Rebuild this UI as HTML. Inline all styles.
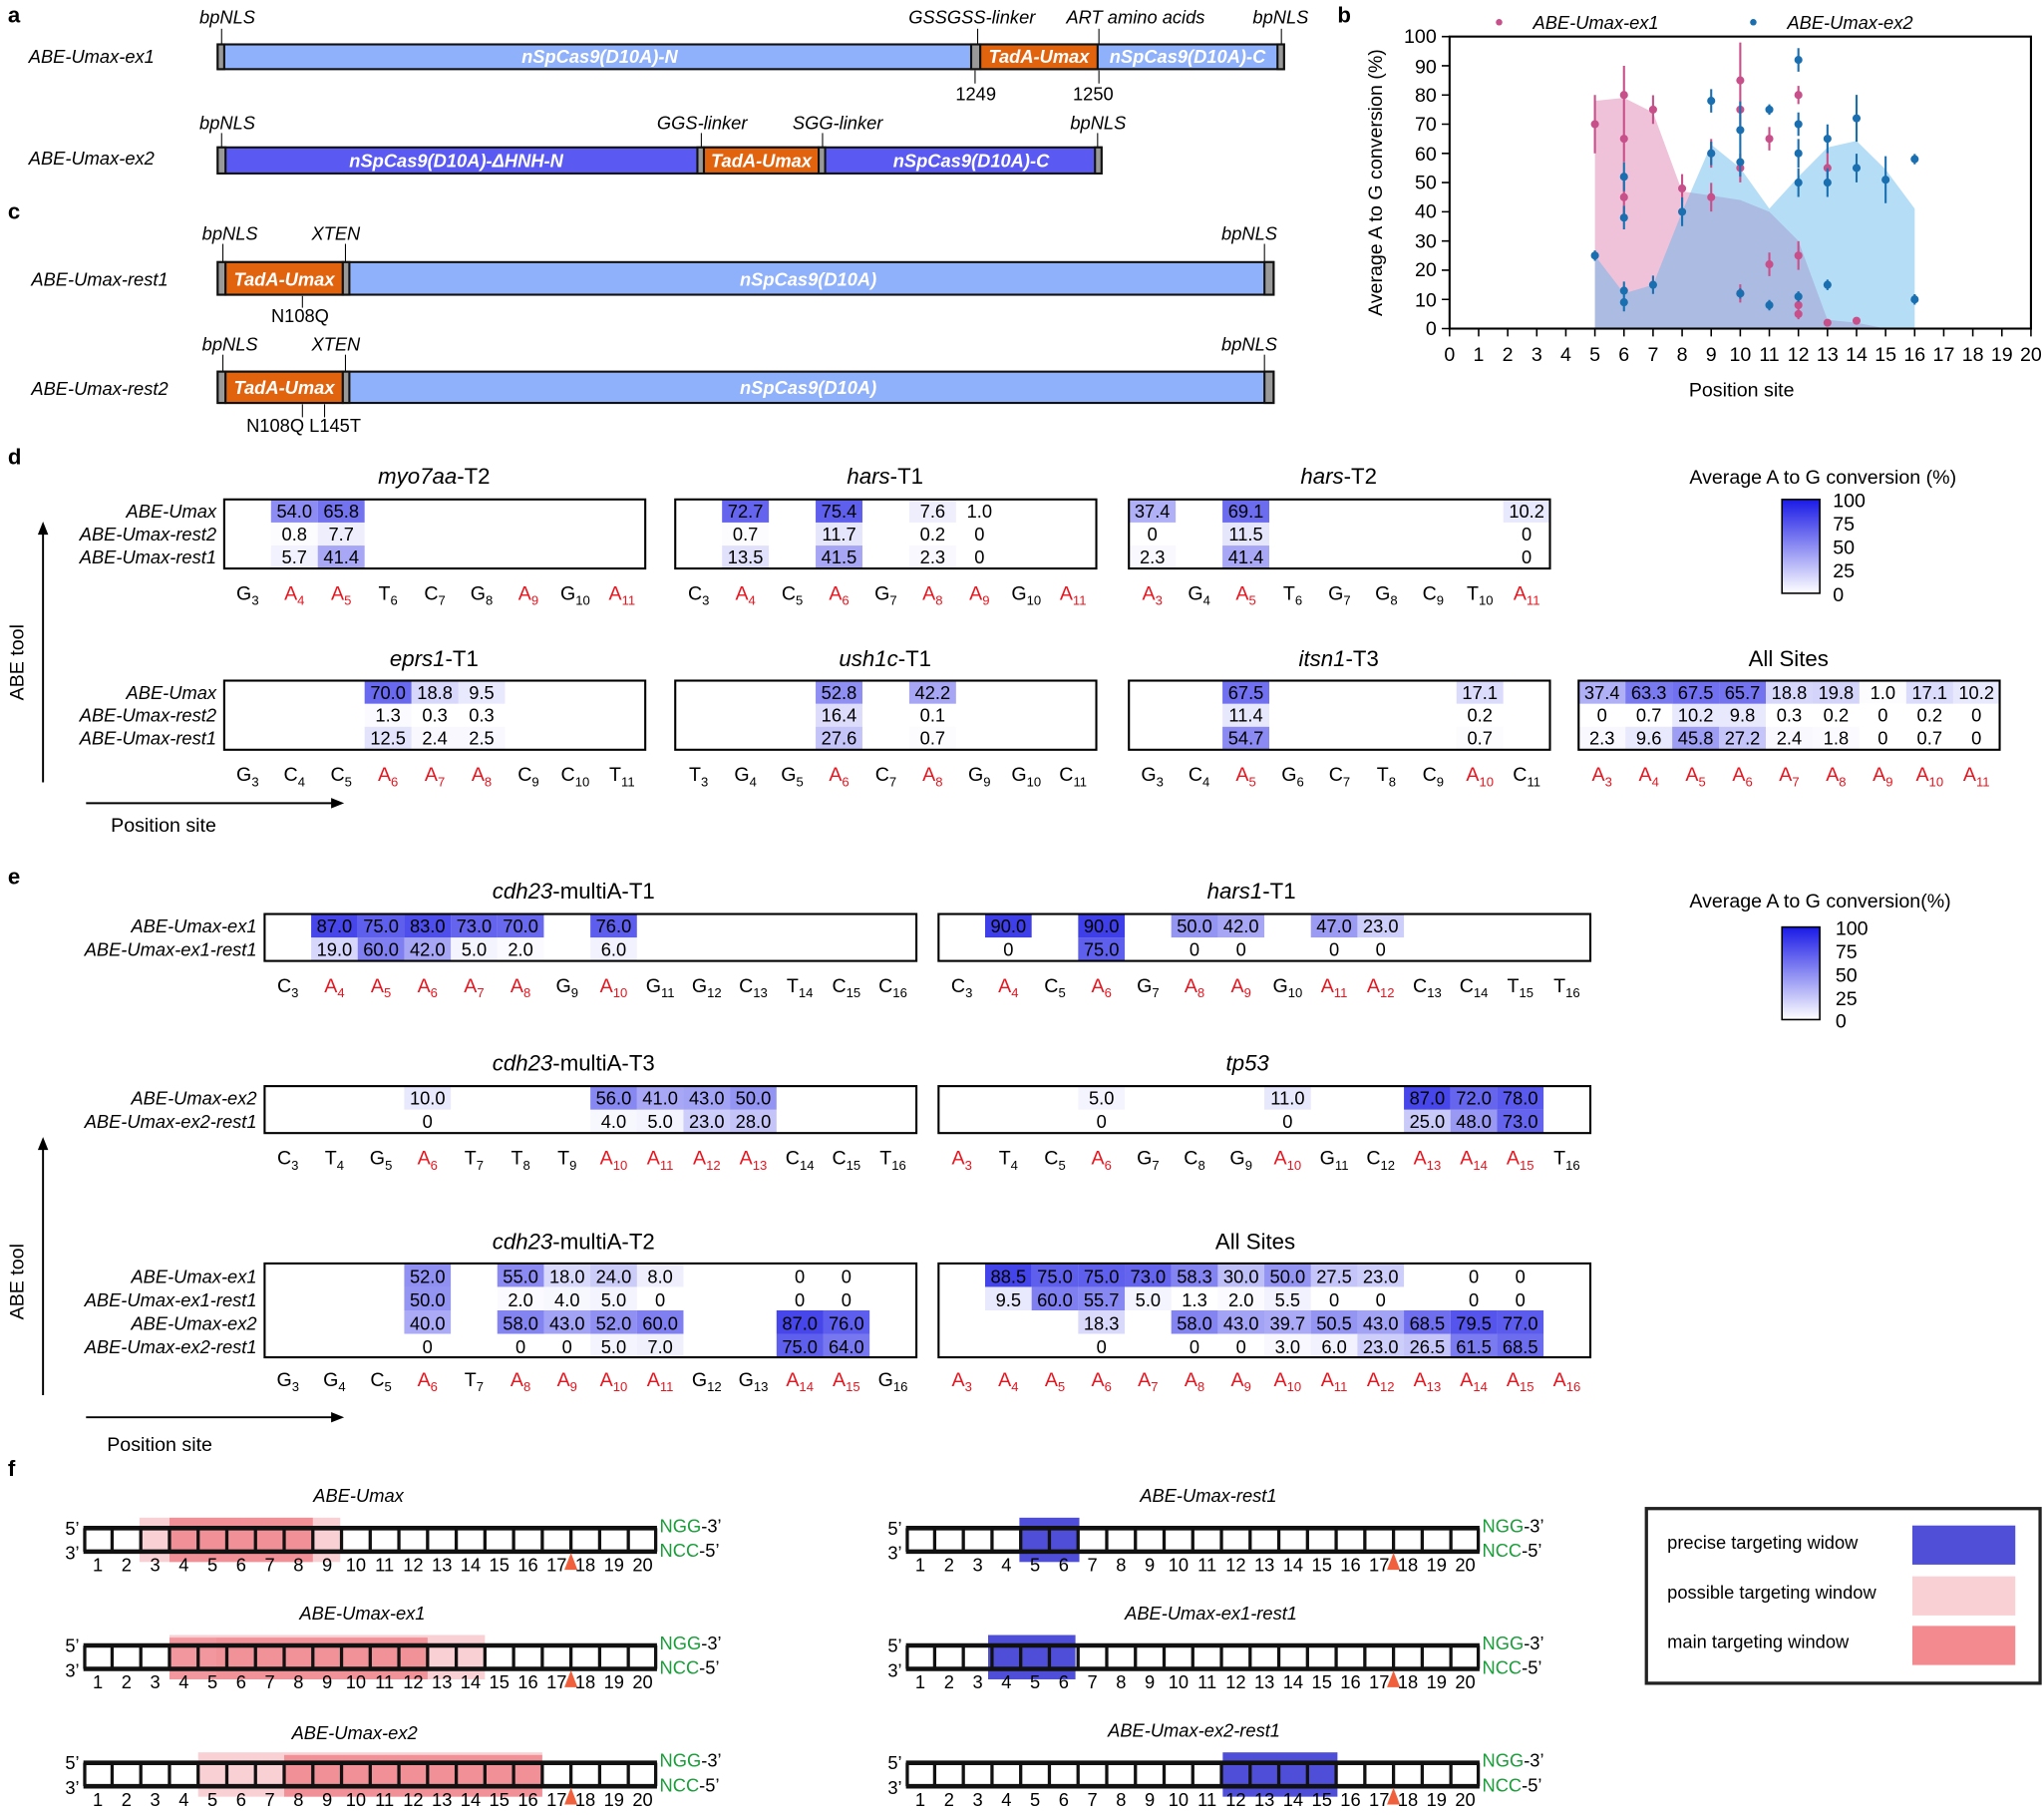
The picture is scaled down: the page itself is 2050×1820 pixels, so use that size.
<!DOCTYPE html>
<html><head><meta charset="utf-8"><style>
html,body{margin:0;padding:0;background:#fff}
svg{display:block;font-family:"Liberation Sans",sans-serif}
.i{font-style:italic}
.b{font-weight:bold}
.h rect.c{fill:#2a2ae8}
.box{fill:none;stroke:#000;stroke-width:1.6}
.v{font-size:14px;text-anchor:middle}
.rl{font-size:14px;font-style:italic;text-anchor:end}
.cl{font-size:15px;text-anchor:middle}
.r{fill:#e8141e}
.sb{font-size:10px}
.tt{font-size:17px;text-anchor:middle}
.bt{fill:#fff;font-style:italic;font-weight:bold;font-size:14px;text-anchor:middle}
.lb{font-size:14px;font-style:italic}
.ax{font-size:15px}
.g{fill:#1a9e3a;font-size:14px}
</style></head><body>
<svg width="2050" height="1820" viewBox="0 0 1568 1392" xmlns="http://www.w3.org/2000/svg">
<!-- panel letters -->
<g class="b" font-size="17"><text x="6" y="17">a</text><text x="1026" y="17">b</text><text x="6" y="168">c</text><text x="6" y="356">d</text><text x="6" y="678">e</text><text x="6" y="1132">f</text></g>

<!-- Panel a -->
<g stroke="#000" stroke-width="0.8">
<line x1="170" y1="22" x2="170" y2="34"/><line x1="750" y1="22" x2="750" y2="34"/><line x1="843" y1="22" x2="843" y2="34"/><line x1="983" y1="22" x2="983" y2="34"/>
<line x1="748" y1="54" x2="748" y2="64"/><line x1="843" y1="54" x2="843" y2="64"/>
<line x1="170" y1="102" x2="170" y2="113"/><line x1="538" y1="102" x2="538" y2="113"/><line x1="631" y1="102" x2="631" y2="113"/><line x1="842" y1="102" x2="842" y2="113"/>
<line x1="171" y1="187" x2="171" y2="201"/><line x1="265" y1="187" x2="265" y2="201"/><line x1="970" y1="187" x2="970" y2="201"/>
<line x1="232" y1="227" x2="232" y2="236"/>
<line x1="171" y1="272" x2="171" y2="285"/><line x1="265" y1="272" x2="265" y2="285"/><line x1="970" y1="272" x2="970" y2="285"/>
<line x1="232" y1="310" x2="232" y2="320"/><line x1="249" y1="310" x2="249" y2="320"/>
</g>
<g class="lb">
<text x="153" y="18">bpNLS</text><text x="697" y="18">GSSGSS-linker</text><text x="818" y="18">ART amino acids</text><text x="961" y="18">bpNLS</text>
<text x="22" y="48">ABE-Umax-ex1</text>
<text x="153" y="99">bpNLS</text><text x="504" y="99">GGS-linker</text><text x="608" y="99">SGG-linker</text><text x="821" y="99">bpNLS</text>
<text x="22" y="126">ABE-Umax-ex2</text>
<text x="155" y="184">bpNLS</text><text x="239" y="184">XTEN</text><text x="937" y="184">bpNLS</text>
<text x="24" y="219">ABE-Umax-rest1</text>
<text x="155" y="269">bpNLS</text><text x="239" y="269">XTEN</text><text x="937" y="269">bpNLS</text>
<text x="24" y="303">ABE-Umax-rest2</text>
</g>
<g font-size="14"><text x="733" y="77">1249</text><text x="823" y="77">1250</text><text x="208" y="247">N108Q</text><text x="189" y="331">N108Q L145T</text></g>
<!-- ex1 bar -->
<g stroke="#111" stroke-width="1.6">
<rect x="167" y="34" width="818" height="19" fill="#8fb0fa"/>
<rect x="167" y="34" width="5" height="19" fill="#999"/>
<rect x="745" y="34" width="7" height="19" fill="#999"/>
<rect x="752" y="34" width="90" height="19" fill="#e2630e"/>
<rect x="980" y="34" width="5" height="19" fill="#999"/>
<rect x="167" y="113" width="678" height="20" fill="#5a5af2"/>
<rect x="167" y="113" width="6" height="20" fill="#999"/>
<rect x="535" y="113" width="5" height="20" fill="#999"/>
<rect x="540" y="113" width="88" height="20" fill="#e2630e"/>
<rect x="628" y="113" width="5" height="20" fill="#999"/>
<rect x="840" y="113" width="5" height="20" fill="#999"/>
<rect x="167" y="201" width="810" height="25" fill="#8fb0fa"/>
<rect x="167" y="201" width="6" height="25" fill="#999"/>
<rect x="173" y="201" width="90" height="25" fill="#e2630e"/>
<rect x="263" y="201" width="5" height="25" fill="#999"/>
<rect x="970" y="201" width="7" height="25" fill="#999"/>
<rect x="167" y="285" width="810" height="24" fill="#8fb0fa"/>
<rect x="167" y="285" width="6" height="24" fill="#999"/>
<rect x="173" y="285" width="90" height="24" fill="#e2630e"/>
<rect x="263" y="285" width="5" height="24" fill="#999"/>
<rect x="970" y="285" width="7" height="24" fill="#999"/>
</g>
<g class="bt">
<text x="460" y="48">nSpCas9(D10A)-N</text><text x="797" y="48">TadA-Umax</text><text x="911" y="48">nSpCas9(D10A)-C</text>
<text x="350" y="128">nSpCas9(D10A)-ΔHNH-N</text><text x="584" y="128">TadA-Umax</text><text x="745" y="128">nSpCas9(D10A)-C</text>
<text x="218" y="219">TadA-Umax</text><text x="620" y="219">nSpCas9(D10A)</text>
<text x="218" y="302">TadA-Umax</text><text x="620" y="302">nSpCas9(D10A)</text>
</g>

<!-- Panel b -->
<polygon fill="#dc78aa" fill-opacity="0.45" points="1223.5,252 1223.5,77.3 1245.8,75 1268.1,86.2 1290.4,146.7 1312.7,150 1335,153.4 1357.3,162.4 1379.6,184.8 1401.9,245.3 1424.2,247.5 1446.5,252"/>
<polygon fill="#5ab4ea" fill-opacity="0.45" points="1223.5,252 1223.5,196 1245.8,225 1268.1,218.4 1290.4,162.4 1312.7,110.9 1335,128.8 1357.3,160 1379.6,135.5 1401.9,113.1 1424.2,108 1446.5,130 1468.8,160 1468.8,252"/>
<rect x="1112" y="28" width="446" height="224" fill="none" stroke="#000" stroke-width="1.6"/>
<g stroke="#000" stroke-width="1.2">
<path d="M1106 252h6M1106 229.6h6M1106 207.2h6M1106 184.8h6M1106 162.4h6M1106 140h6M1106 117.6h6M1106 95.2h6M1106 72.8h6M1106 50.4h6M1106 28h6"/>
<path d="M1112 252v6M1134.3 252v6M1156.6 252v6M1178.9 252v6M1201.2 252v6M1223.5 252v6M1245.8 252v6M1268.1 252v6M1290.4 252v6M1312.7 252v6M1335 252v6M1357.3 252v6M1379.6 252v6M1401.9 252v6M1424.2 252v6M1446.5 252v6M1468.8 252v6M1491.1 252v6M1513.4 252v6M1535.7 252v6M1558 252v6"/>
</g>
<g class="ax" text-anchor="end">
<text x="1102" y="257">0</text><text x="1102" y="235">10</text><text x="1102" y="212">20</text><text x="1102" y="190">30</text><text x="1102" y="167">40</text><text x="1102" y="145">50</text><text x="1102" y="123">60</text><text x="1102" y="100">70</text><text x="1102" y="78">80</text><text x="1102" y="56">90</text><text x="1102" y="33">100</text>
</g>
<g class="ax" text-anchor="middle">
<text x="1112" y="277">0</text><text x="1134.3" y="277">1</text><text x="1156.6" y="277">2</text><text x="1178.9" y="277">3</text><text x="1201.2" y="277">4</text><text x="1223.5" y="277">5</text><text x="1245.8" y="277">6</text><text x="1268.1" y="277">7</text><text x="1290.4" y="277">8</text><text x="1312.7" y="277">9</text><text x="1335" y="277">10</text><text x="1357.3" y="277">11</text><text x="1379.6" y="277">12</text><text x="1401.9" y="277">13</text><text x="1424.2" y="277">14</text><text x="1446.5" y="277">15</text><text x="1468.8" y="277">16</text><text x="1491.1" y="277">17</text><text x="1513.4" y="277">18</text><text x="1535.7" y="277">19</text><text x="1558" y="277">20</text>
<text x="1336" y="304">Position site</text>
</g>
<text class="ax" transform="translate(1060,140) rotate(-90)" text-anchor="middle">Average A to G conversion (%)</text>
<circle cx="1150" cy="17" r="2.5" fill="#c8508a"/><text class="lb" x="1176" y="22">ABE-Umax-ex1</text>
<circle cx="1345" cy="17" r="2.5" fill="#1a6fb0"/><text class="lb" x="1371" y="22">ABE-Umax-ex2</text>
<g stroke="#c8508a" stroke-width="1.6" fill="#c8508a">
<path d="M1223.5 72.8V117.6M1245.8 50.4V95.2M1245.8 88.4V124.4M1245.8 138.2V164.2M1268.1 73V95M1290.4 133.5V155.5M1312.7 106.6V128.6M1312.7 140.2V162.2M1335 32.6V90.6M1335 66V102M1335 117.8V139.8M1335 218V232M1357.3 97.4V115.4M1357.3 193.7V211.7M1379.6 65.8V79.8M1379.6 185V207M1379.6 227V241M1379.6 236.8V244.8M1401.9 115.8V141.8"/>
<circle cx="1223.5" cy="95.2" r="2.3"/><circle cx="1245.8" cy="72.8" r="2.3"/><circle cx="1245.8" cy="106.4" r="2.3"/><circle cx="1245.8" cy="151.2" r="2.3"/><circle cx="1268.1" cy="84" r="2.3"/><circle cx="1290.4" cy="144.5" r="2.3"/><circle cx="1312.7" cy="117.6" r="2.3"/><circle cx="1312.7" cy="151.2" r="2.3"/><circle cx="1335" cy="61.6" r="2.3"/><circle cx="1335" cy="84" r="2.3"/><circle cx="1335" cy="128.8" r="2.3"/><circle cx="1335" cy="225" r="2.3"/><circle cx="1357.3" cy="106.4" r="2.3"/><circle cx="1357.3" cy="202.7" r="2.3"/><circle cx="1379.6" cy="72.8" r="2.3"/><circle cx="1379.6" cy="196" r="2.3"/><circle cx="1379.6" cy="234" r="2.3"/><circle cx="1379.6" cy="240.8" r="2.3"/><circle cx="1401.9" cy="128.8" r="2.3"/><circle cx="1401.9" cy="247.5" r="2.3"/><circle cx="1424.2" cy="246" r="2.3"/>
</g>
<g stroke="#1a6fb0" stroke-width="1.6" fill="#1a6fb0">
<path d="M1223.5 192V200M1245.8 124.5V146.5M1245.8 157.9V175.9M1245.8 215.9V229.9M1245.8 224.8V238.8M1268.1 211.4V225.4M1290.4 151.4V173.4M1312.7 68.3V86.3M1312.7 108.6V126.6M1335 77.7V121.7M1335 113.3V135.3M1335 221V229M1357.3 80V88M1357.3 230V238M1379.6 36.9V54.9M1379.6 86.2V104.2M1379.6 106.6V128.6M1379.6 129V151M1379.6 223.4V231.4M1401.9 95.4V117.4M1401.9 129V151M1401.9 214.4V222.4M1424.2 72.7V108.7M1424.2 117.8V139.8M1446.5 119.8V155.8M1468.8 118V126M1468.8 225.6V233.6"/>
<circle cx="1223.5" cy="196" r="2.3"/><circle cx="1245.8" cy="135.5" r="2.3"/><circle cx="1245.8" cy="166.9" r="2.3"/><circle cx="1245.8" cy="222.9" r="2.3"/><circle cx="1245.8" cy="231.8" r="2.3"/><circle cx="1268.1" cy="218.4" r="2.3"/><circle cx="1290.4" cy="162.4" r="2.3"/><circle cx="1312.7" cy="77.3" r="2.3"/><circle cx="1312.7" cy="117.6" r="2.3"/><circle cx="1335" cy="99.7" r="2.3"/><circle cx="1335" cy="124.3" r="2.3"/><circle cx="1335" cy="225" r="2.3"/><circle cx="1357.3" cy="84" r="2.3"/><circle cx="1357.3" cy="234" r="2.3"/><circle cx="1379.6" cy="45.9" r="2.3"/><circle cx="1379.6" cy="95.2" r="2.3"/><circle cx="1379.6" cy="117.6" r="2.3"/><circle cx="1379.6" cy="140" r="2.3"/><circle cx="1379.6" cy="227.4" r="2.3"/><circle cx="1401.9" cy="106.4" r="2.3"/><circle cx="1401.9" cy="140" r="2.3"/><circle cx="1401.9" cy="218.4" r="2.3"/><circle cx="1424.2" cy="90.7" r="2.3"/><circle cx="1424.2" cy="128.8" r="2.3"/><circle cx="1446.5" cy="137.8" r="2.3"/><circle cx="1468.8" cy="122" r="2.3"/><circle cx="1468.8" cy="229.6" r="2.3"/>
</g>

<defs><linearGradient id="cb" x1="0" y1="0" x2="0" y2="1"><stop offset="0" stop-color="#1a1ae6"/><stop offset="1" stop-color="#fff"/></linearGradient></defs>

<!-- Panel d -->
<g class="h" transform="translate(172,383)">
<text class="tt" x="161" y="-12"><tspan class="i">myo7aa</tspan>-T2</text>
<rect class="c" x="35.9" y="0" width="35.9" height="17.7" fill-opacity=".54"/><rect class="c" x="35.9" y="17.7" width="35.9" height="17.7" fill-opacity=".01"/><rect class="c" x="35.9" y="35.4" width="35.9" height="17.7" fill-opacity=".06"/>
<rect class="c" x="71.8" y="0" width="35.9" height="17.7" fill-opacity=".66"/><rect class="c" x="71.8" y="17.7" width="35.9" height="17.7" fill-opacity=".08"/><rect class="c" x="71.8" y="35.4" width="35.9" height="17.7" fill-opacity=".41"/>
<rect class="box" x="0" y="0" width="323" height="53"/>
<text class="v" x="53.85" y="14">54.0</text><text class="v" x="53.85" y="31.5">0.8</text><text class="v" x="53.85" y="49">5.7</text>
<text class="v" x="89.75" y="14">65.8</text><text class="v" x="89.75" y="31.5">7.7</text><text class="v" x="89.75" y="49">41.4</text>
<text class="rl" x="-6" y="14">ABE-Umax</text><text class="rl" x="-6" y="31.5">ABE-Umax-rest2</text><text class="rl" x="-6" y="49">ABE-Umax-rest1</text>
<g class="cl"><text x="17.95" y="77">G<tspan class="sb" dy="4">3</tspan></text><text class="r" x="53.85" y="77">A<tspan class="sb" dy="4">4</tspan></text><text class="r" x="89.75" y="77">A<tspan class="sb" dy="4">5</tspan></text><text x="125.65" y="77">T<tspan class="sb" dy="4">6</tspan></text><text x="161.55" y="77">C<tspan class="sb" dy="4">7</tspan></text><text x="197.45" y="77">G<tspan class="sb" dy="4">8</tspan></text><text class="r" x="233.35" y="77">A<tspan class="sb" dy="4">9</tspan></text><text x="269.25" y="77">G<tspan class="sb" dy="4">10</tspan></text><text class="r" x="305.15" y="77">A<tspan class="sb" dy="4">11</tspan></text></g>
</g>

<g class="h" transform="translate(518,383)">
<text class="tt" x="161" y="-12"><tspan class="i">hars</tspan>-T1</text>
<rect class="c" x="35.9" y="0" width="35.9" height="17.7" fill-opacity=".73"/><rect class="c" x="35.9" y="17.7" width="35.9" height="17.7" fill-opacity=".01"/><rect class="c" x="35.9" y="35.4" width="35.9" height="17.7" fill-opacity=".14"/>
<rect class="c" x="107.7" y="0" width="35.9" height="17.7" fill-opacity=".75"/><rect class="c" x="107.7" y="17.7" width="35.9" height="17.7" fill-opacity=".12"/><rect class="c" x="107.7" y="35.4" width="35.9" height="17.7" fill-opacity=".42"/>
<rect class="c" x="179.5" y="0" width="35.9" height="17.7" fill-opacity=".08"/><rect class="c" x="179.5" y="35.4" width="35.9" height="17.7" fill-opacity=".03"/>
<rect class="box" x="0" y="0" width="323" height="53"/>
<text class="v" x="53.85" y="14">72.7</text><text class="v" x="53.85" y="31.5">0.7</text><text class="v" x="53.85" y="49">13.5</text>
<text class="v" x="125.65" y="14">75.4</text><text class="v" x="125.65" y="31.5">11.7</text><text class="v" x="125.65" y="49">41.5</text>
<text class="v" x="197.45" y="14">7.6</text><text class="v" x="197.45" y="31.5">0.2</text><text class="v" x="197.45" y="49">2.3</text>
<text class="v" x="233.35" y="14">1.0</text><text class="v" x="233.35" y="31.5">0</text><text class="v" x="233.35" y="49">0</text>
<g class="cl"><text x="17.95" y="77">C<tspan class="sb" dy="4">3</tspan></text><text class="r" x="53.85" y="77">A<tspan class="sb" dy="4">4</tspan></text><text x="89.75" y="77">C<tspan class="sb" dy="4">5</tspan></text><text class="r" x="125.65" y="77">A<tspan class="sb" dy="4">6</tspan></text><text x="161.55" y="77">G<tspan class="sb" dy="4">7</tspan></text><text class="r" x="197.45" y="77">A<tspan class="sb" dy="4">8</tspan></text><text class="r" x="233.35" y="77">A<tspan class="sb" dy="4">9</tspan></text><text x="269.25" y="77">G<tspan class="sb" dy="4">10</tspan></text><text class="r" x="305.15" y="77">A<tspan class="sb" dy="4">11</tspan></text></g>
</g>

<g class="h" transform="translate(866,383)">
<text class="tt" x="161" y="-12"><tspan class="i">hars</tspan>-T2</text>
<rect class="c" x="0" y="0" width="35.9" height="17.7" fill-opacity=".37"/><rect class="c" x="0" y="35.4" width="35.9" height="17.7" fill-opacity=".03"/>
<rect class="c" x="71.8" y="0" width="35.9" height="17.7" fill-opacity=".69"/><rect class="c" x="71.8" y="17.7" width="35.9" height="17.7" fill-opacity=".12"/><rect class="c" x="71.8" y="35.4" width="35.9" height="17.7" fill-opacity=".41"/>
<rect class="c" x="287.2" y="0" width="35.9" height="17.7" fill-opacity=".1"/>
<rect class="box" x="0" y="0" width="323" height="53"/>
<text class="v" x="17.95" y="14">37.4</text><text class="v" x="17.95" y="31.5">0</text><text class="v" x="17.95" y="49">2.3</text>
<text class="v" x="89.75" y="14">69.1</text><text class="v" x="89.75" y="31.5">11.5</text><text class="v" x="89.75" y="49">41.4</text>
<text class="v" x="305.15" y="14">10.2</text><text class="v" x="305.15" y="31.5">0</text><text class="v" x="305.15" y="49">0</text>
<g class="cl"><text class="r" x="17.95" y="77">A<tspan class="sb" dy="4">3</tspan></text><text x="53.85" y="77">G<tspan class="sb" dy="4">4</tspan></text><text class="r" x="89.75" y="77">A<tspan class="sb" dy="4">5</tspan></text><text x="125.65" y="77">T<tspan class="sb" dy="4">6</tspan></text><text x="161.55" y="77">G<tspan class="sb" dy="4">7</tspan></text><text x="197.45" y="77">G<tspan class="sb" dy="4">8</tspan></text><text x="233.35" y="77">C<tspan class="sb" dy="4">9</tspan></text><text x="269.25" y="77">T<tspan class="sb" dy="4">10</tspan></text><text class="r" x="305.15" y="77">A<tspan class="sb" dy="4">11</tspan></text></g>
</g>

<g class="h" transform="translate(172,522)">
<text class="tt" x="161" y="-11"><tspan class="i">eprs1</tspan>-T1</text>
<rect class="c" x="107.7" y="0" width="35.9" height="17.7" fill-opacity=".7"/><rect class="c" x="107.7" y="17.7" width="35.9" height="17.7" fill-opacity=".02"/><rect class="c" x="107.7" y="35.4" width="35.9" height="17.7" fill-opacity=".13"/>
<rect class="c" x="143.6" y="0" width="35.9" height="17.7" fill-opacity=".19"/><rect class="c" x="143.6" y="35.4" width="35.9" height="17.7" fill-opacity=".03"/>
<rect class="c" x="179.5" y="0" width="35.9" height="17.7" fill-opacity=".1"/><rect class="c" x="179.5" y="35.4" width="35.9" height="17.7" fill-opacity=".03"/>
<rect class="box" x="0" y="0" width="323" height="53"/>
<text class="v" x="125.65" y="14">70.0</text><text class="v" x="125.65" y="31.5">1.3</text><text class="v" x="125.65" y="49">12.5</text>
<text class="v" x="161.55" y="14">18.8</text><text class="v" x="161.55" y="31.5">0.3</text><text class="v" x="161.55" y="49">2.4</text>
<text class="v" x="197.45" y="14">9.5</text><text class="v" x="197.45" y="31.5">0.3</text><text class="v" x="197.45" y="49">2.5</text>
<text class="rl" x="-6" y="14">ABE-Umax</text><text class="rl" x="-6" y="31.5">ABE-Umax-rest2</text><text class="rl" x="-6" y="49">ABE-Umax-rest1</text>
<g class="cl"><text x="17.95" y="77">G<tspan class="sb" dy="4">3</tspan></text><text x="53.85" y="77">C<tspan class="sb" dy="4">4</tspan></text><text x="89.75" y="77">C<tspan class="sb" dy="4">5</tspan></text><text class="r" x="125.65" y="77">A<tspan class="sb" dy="4">6</tspan></text><text class="r" x="161.55" y="77">A<tspan class="sb" dy="4">7</tspan></text><text class="r" x="197.45" y="77">A<tspan class="sb" dy="4">8</tspan></text><text x="233.35" y="77">C<tspan class="sb" dy="4">9</tspan></text><text x="269.25" y="77">C<tspan class="sb" dy="4">10</tspan></text><text x="305.15" y="77">T<tspan class="sb" dy="4">11</tspan></text></g>
</g>

<g class="h" transform="translate(518,522)">
<text class="tt" x="161" y="-11"><tspan class="i">ush1c</tspan>-T1</text>
<rect class="c" x="107.7" y="0" width="35.9" height="17.7" fill-opacity=".53"/><rect class="c" x="107.7" y="17.7" width="35.9" height="17.7" fill-opacity=".16"/><rect class="c" x="107.7" y="35.4" width="35.9" height="17.7" fill-opacity=".28"/>
<rect class="c" x="179.5" y="0" width="35.9" height="17.7" fill-opacity=".42"/><rect class="c" x="179.5" y="35.4" width="35.9" height="17.7" fill-opacity=".01"/>
<rect class="box" x="0" y="0" width="323" height="53"/>
<text class="v" x="125.65" y="14">52.8</text><text class="v" x="125.65" y="31.5">16.4</text><text class="v" x="125.65" y="49">27.6</text>
<text class="v" x="197.45" y="14">42.2</text><text class="v" x="197.45" y="31.5">0.1</text><text class="v" x="197.45" y="49">0.7</text>
<g class="cl"><text x="17.95" y="77">T<tspan class="sb" dy="4">3</tspan></text><text x="53.85" y="77">G<tspan class="sb" dy="4">4</tspan></text><text x="89.75" y="77">G<tspan class="sb" dy="4">5</tspan></text><text class="r" x="125.65" y="77">A<tspan class="sb" dy="4">6</tspan></text><text x="161.55" y="77">C<tspan class="sb" dy="4">7</tspan></text><text class="r" x="197.45" y="77">A<tspan class="sb" dy="4">8</tspan></text><text x="233.35" y="77">G<tspan class="sb" dy="4">9</tspan></text><text x="269.25" y="77">G<tspan class="sb" dy="4">10</tspan></text><text x="305.15" y="77">C<tspan class="sb" dy="4">11</tspan></text></g>
</g>

<g class="h" transform="translate(866,522)">
<text class="tt" x="161" y="-11"><tspan class="i">itsn1</tspan>-T3</text>
<rect class="c" x="71.8" y="0" width="35.9" height="17.7" fill-opacity=".67"/><rect class="c" x="71.8" y="17.7" width="35.9" height="17.7" fill-opacity=".11"/><rect class="c" x="71.8" y="35.4" width="35.9" height="17.7" fill-opacity=".55"/>
<rect class="c" x="251.3" y="0" width="35.9" height="17.7" fill-opacity=".17"/><rect class="c" x="251.3" y="35.4" width="35.9" height="17.7" fill-opacity=".01"/>
<rect class="box" x="0" y="0" width="323" height="53"/>
<text class="v" x="89.75" y="14">67.5</text><text class="v" x="89.75" y="31.5">11.4</text><text class="v" x="89.75" y="49">54.7</text>
<text class="v" x="269.25" y="14">17.1</text><text class="v" x="269.25" y="31.5">0.2</text><text class="v" x="269.25" y="49">0.7</text>
<g class="cl"><text x="17.95" y="77">G<tspan class="sb" dy="4">3</tspan></text><text x="53.85" y="77">C<tspan class="sb" dy="4">4</tspan></text><text class="r" x="89.75" y="77">A<tspan class="sb" dy="4">5</tspan></text><text x="125.65" y="77">G<tspan class="sb" dy="4">6</tspan></text><text x="161.55" y="77">C<tspan class="sb" dy="4">7</tspan></text><text x="197.45" y="77">T<tspan class="sb" dy="4">8</tspan></text><text x="233.35" y="77">C<tspan class="sb" dy="4">9</tspan></text><text class="r" x="269.25" y="77">A<tspan class="sb" dy="4">10</tspan></text><text x="305.15" y="77">C<tspan class="sb" dy="4">11</tspan></text></g>
</g>

<g class="h" transform="translate(1211,522)">
<text class="tt" x="161" y="-11">All Sites</text>
<rect class="c" x="0" y="0" width="35.9" height="17.7" fill-opacity=".37"/><rect class="c" x="35.9" y="0" width="35.9" height="17.7" fill-opacity=".63"/><rect class="c" x="71.8" y="0" width="35.9" height="17.7" fill-opacity=".67"/><rect class="c" x="107.7" y="0" width="35.9" height="17.7" fill-opacity=".66"/><rect class="c" x="143.6" y="0" width="35.9" height="17.7" fill-opacity=".19"/><rect class="c" x="179.5" y="0" width="35.9" height="17.7" fill-opacity=".2"/><rect class="c" x="215.4" y="0" width="35.9" height="17.7" fill-opacity=".01"/><rect class="c" x="251.3" y="0" width="35.9" height="17.7" fill-opacity=".17"/><rect class="c" x="287.2" y="0" width="35.9" height="17.7" fill-opacity=".1"/>
<rect class="c" x="71.8" y="17.7" width="35.9" height="17.7" fill-opacity=".1"/><rect class="c" x="107.7" y="17.7" width="35.9" height="17.7" fill-opacity=".1"/>
<rect class="c" x="0" y="35.4" width="35.9" height="17.7" fill-opacity=".03"/><rect class="c" x="35.9" y="35.4" width="35.9" height="17.7" fill-opacity=".1"/><rect class="c" x="71.8" y="35.4" width="35.9" height="17.7" fill-opacity=".46"/><rect class="c" x="107.7" y="35.4" width="35.9" height="17.7" fill-opacity=".27"/><rect class="c" x="143.6" y="35.4" width="35.9" height="17.7" fill-opacity=".03"/><rect class="c" x="179.5" y="35.4" width="35.9" height="17.7" fill-opacity=".02"/>
<rect class="box" x="0" y="0" width="323" height="53"/>
<text class="v" x="17.95" y="14">37.4</text><text class="v" x="53.85" y="14">63.3</text><text class="v" x="89.75" y="14">67.5</text><text class="v" x="125.65" y="14">65.7</text><text class="v" x="161.55" y="14">18.8</text><text class="v" x="197.45" y="14">19.8</text><text class="v" x="233.35" y="14">1.0</text><text class="v" x="269.25" y="14">17.1</text><text class="v" x="305.15" y="14">10.2</text>
<text class="v" x="17.95" y="31.5">0</text><text class="v" x="53.85" y="31.5">0.7</text><text class="v" x="89.75" y="31.5">10.2</text><text class="v" x="125.65" y="31.5">9.8</text><text class="v" x="161.55" y="31.5">0.3</text><text class="v" x="197.45" y="31.5">0.2</text><text class="v" x="233.35" y="31.5">0</text><text class="v" x="269.25" y="31.5">0.2</text><text class="v" x="305.15" y="31.5">0</text>
<text class="v" x="17.95" y="49">2.3</text><text class="v" x="53.85" y="49">9.6</text><text class="v" x="89.75" y="49">45.8</text><text class="v" x="125.65" y="49">27.2</text><text class="v" x="161.55" y="49">2.4</text><text class="v" x="197.45" y="49">1.8</text><text class="v" x="233.35" y="49">0</text><text class="v" x="269.25" y="49">0.7</text><text class="v" x="305.15" y="49">0</text>
<g class="cl r"><text x="17.95" y="77">A<tspan class="sb" dy="4">3</tspan></text><text x="53.85" y="77">A<tspan class="sb" dy="4">4</tspan></text><text x="89.75" y="77">A<tspan class="sb" dy="4">5</tspan></text><text x="125.65" y="77">A<tspan class="sb" dy="4">6</tspan></text><text x="161.55" y="77">A<tspan class="sb" dy="4">7</tspan></text><text x="197.45" y="77">A<tspan class="sb" dy="4">8</tspan></text><text x="233.35" y="77">A<tspan class="sb" dy="4">9</tspan></text><text x="269.25" y="77">A<tspan class="sb" dy="4">10</tspan></text><text x="305.15" y="77">A<tspan class="sb" dy="4">11</tspan></text></g>
</g>

<!-- d colorbar & axes -->
<text class="ax" x="1296" y="371">Average A to G conversion (%)</text>
<rect x="1367" y="383" width="29" height="72" fill="url(#cb)" stroke="#000" stroke-width="1.2"/>
<g class="ax"><text x="1406" y="389">100</text><text x="1406" y="407">75</text><text x="1406" y="425">50</text><text x="1406" y="443">25</text><text x="1406" y="461">0</text></g>
<text class="ax" transform="translate(18,508) rotate(-90)" text-anchor="middle">ABE tool</text>
<g stroke="#000" stroke-width="1.5"><line x1="33" y1="600" x2="33" y2="408"/><line x1="66" y1="616" x2="256" y2="616"/></g>
<polygon points="33,400 29,410 37,410"/><polygon points="264,616 254,612 254,620"/>
<text class="ax" x="85" y="638">Position site</text>

<!-- Panel e -->
<g class="h" transform="translate(203,701)">
<text class="tt" x="237" y="-12"><tspan class="i">cdh23</tspan>-multiA-T1</text>
<rect class="c" x="35.7" y="0" width="35.7" height="18" fill-opacity=".87"/><rect class="c" x="71.4" y="0" width="35.7" height="18" fill-opacity=".75"/><rect class="c" x="107.1" y="0" width="35.7" height="18" fill-opacity=".83"/><rect class="c" x="142.8" y="0" width="35.7" height="18" fill-opacity=".73"/><rect class="c" x="178.5" y="0" width="35.7" height="18" fill-opacity=".7"/><rect class="c" x="249.9" y="0" width="35.7" height="18" fill-opacity=".76"/>
<rect class="c" x="35.7" y="18" width="35.7" height="18" fill-opacity=".19"/><rect class="c" x="71.4" y="18" width="35.7" height="18" fill-opacity=".6"/><rect class="c" x="107.1" y="18" width="35.7" height="18" fill-opacity=".42"/><rect class="c" x="142.8" y="18" width="35.7" height="18" fill-opacity=".05"/><rect class="c" x="178.5" y="18" width="35.7" height="18" fill-opacity=".02"/><rect class="c" x="249.9" y="18" width="35.7" height="18" fill-opacity=".06"/>
<rect class="box" x="0" y="0" width="500" height="36"/>
<text class="v" x="53.55" y="14">87.0</text><text class="v" x="89.25" y="14">75.0</text><text class="v" x="124.95" y="14">83.0</text><text class="v" x="160.65" y="14">73.0</text><text class="v" x="196.35" y="14">70.0</text><text class="v" x="267.75" y="14">76.0</text>
<text class="v" x="53.55" y="32">19.0</text><text class="v" x="89.25" y="32">60.0</text><text class="v" x="124.95" y="32">42.0</text><text class="v" x="160.65" y="32">5.0</text><text class="v" x="196.35" y="32">2.0</text><text class="v" x="267.75" y="32">6.0</text>
<text class="rl" x="-6" y="14">ABE-Umax-ex1</text><text class="rl" x="-6" y="32">ABE-Umax-ex1-rest1</text>
<g class="cl"><text x="17.85" y="60">C<tspan class="sb" dy="4">3</tspan></text><text class="r" x="53.55" y="60">A<tspan class="sb" dy="4">4</tspan></text><text class="r" x="89.25" y="60">A<tspan class="sb" dy="4">5</tspan></text><text class="r" x="124.95" y="60">A<tspan class="sb" dy="4">6</tspan></text><text class="r" x="160.65" y="60">A<tspan class="sb" dy="4">7</tspan></text><text class="r" x="196.35" y="60">A<tspan class="sb" dy="4">8</tspan></text><text x="232.05" y="60">G<tspan class="sb" dy="4">9</tspan></text><text class="r" x="267.75" y="60">A<tspan class="sb" dy="4">10</tspan></text><text x="303.45" y="60">G<tspan class="sb" dy="4">11</tspan></text><text x="339.15" y="60">G<tspan class="sb" dy="4">12</tspan></text><text x="374.85" y="60">C<tspan class="sb" dy="4">13</tspan></text><text x="410.55" y="60">T<tspan class="sb" dy="4">14</tspan></text><text x="446.25" y="60">C<tspan class="sb" dy="4">15</tspan></text><text x="481.95" y="60">C<tspan class="sb" dy="4">16</tspan></text></g>
</g>

<g class="h" transform="translate(720,701)">
<text class="tt" x="240" y="-12"><tspan class="i">hars1</tspan>-T1</text>
<rect class="c" x="35.7" y="0" width="35.7" height="18" fill-opacity=".9"/><rect class="c" x="107.1" y="0" width="35.7" height="18" fill-opacity=".9"/><rect class="c" x="178.5" y="0" width="35.7" height="18" fill-opacity=".5"/><rect class="c" x="214.2" y="0" width="35.7" height="18" fill-opacity=".42"/><rect class="c" x="285.6" y="0" width="35.7" height="18" fill-opacity=".47"/><rect class="c" x="321.3" y="0" width="35.7" height="18" fill-opacity=".23"/>
<rect class="c" x="107.1" y="18" width="35.7" height="18" fill-opacity=".75"/>
<rect class="box" x="0" y="0" width="500" height="36"/>
<text class="v" x="53.55" y="14">90.0</text><text class="v" x="124.95" y="14">90.0</text><text class="v" x="196.35" y="14">50.0</text><text class="v" x="232.05" y="14">42.0</text><text class="v" x="303.45" y="14">47.0</text><text class="v" x="339.15" y="14">23.0</text>
<text class="v" x="53.55" y="32">0</text><text class="v" x="124.95" y="32">75.0</text><text class="v" x="196.35" y="32">0</text><text class="v" x="232.05" y="32">0</text><text class="v" x="303.45" y="32">0</text><text class="v" x="339.15" y="32">0</text>
<g class="cl"><text x="17.85" y="60">C<tspan class="sb" dy="4">3</tspan></text><text class="r" x="53.55" y="60">A<tspan class="sb" dy="4">4</tspan></text><text x="89.25" y="60">C<tspan class="sb" dy="4">5</tspan></text><text class="r" x="124.95" y="60">A<tspan class="sb" dy="4">6</tspan></text><text x="160.65" y="60">G<tspan class="sb" dy="4">7</tspan></text><text class="r" x="196.35" y="60">A<tspan class="sb" dy="4">8</tspan></text><text class="r" x="232.05" y="60">A<tspan class="sb" dy="4">9</tspan></text><text x="267.75" y="60">G<tspan class="sb" dy="4">10</tspan></text><text class="r" x="303.45" y="60">A<tspan class="sb" dy="4">11</tspan></text><text class="r" x="339.15" y="60">A<tspan class="sb" dy="4">12</tspan></text><text x="374.85" y="60">C<tspan class="sb" dy="4">13</tspan></text><text x="410.55" y="60">C<tspan class="sb" dy="4">14</tspan></text><text x="446.25" y="60">T<tspan class="sb" dy="4">15</tspan></text><text x="481.95" y="60">T<tspan class="sb" dy="4">16</tspan></text></g>
</g>

<g class="h" transform="translate(203,833)">
<text class="tt" x="237" y="-12"><tspan class="i">cdh23</tspan>-multiA-T3</text>
<rect class="c" x="107.1" y="0" width="35.7" height="18" fill-opacity=".1"/><rect class="c" x="249.9" y="0" width="35.7" height="18" fill-opacity=".56"/><rect class="c" x="285.6" y="0" width="35.7" height="18" fill-opacity=".41"/><rect class="c" x="321.3" y="0" width="35.7" height="18" fill-opacity=".43"/><rect class="c" x="357" y="0" width="35.7" height="18" fill-opacity=".5"/>
<rect class="c" x="249.9" y="18" width="35.7" height="18" fill-opacity=".04"/><rect class="c" x="285.6" y="18" width="35.7" height="18" fill-opacity=".05"/><rect class="c" x="321.3" y="18" width="35.7" height="18" fill-opacity=".23"/><rect class="c" x="357" y="18" width="35.7" height="18" fill-opacity=".28"/>
<rect class="box" x="0" y="0" width="500" height="36"/>
<text class="v" x="124.95" y="14">10.0</text><text class="v" x="267.75" y="14">56.0</text><text class="v" x="303.45" y="14">41.0</text><text class="v" x="339.15" y="14">43.0</text><text class="v" x="374.85" y="14">50.0</text>
<text class="v" x="124.95" y="32">0</text><text class="v" x="267.75" y="32">4.0</text><text class="v" x="303.45" y="32">5.0</text><text class="v" x="339.15" y="32">23.0</text><text class="v" x="374.85" y="32">28.0</text>
<text class="rl" x="-6" y="14">ABE-Umax-ex2</text><text class="rl" x="-6" y="32">ABE-Umax-ex2-rest1</text>
<g class="cl"><text x="17.85" y="60">C<tspan class="sb" dy="4">3</tspan></text><text x="53.55" y="60">T<tspan class="sb" dy="4">4</tspan></text><text x="89.25" y="60">G<tspan class="sb" dy="4">5</tspan></text><text class="r" x="124.95" y="60">A<tspan class="sb" dy="4">6</tspan></text><text x="160.65" y="60">T<tspan class="sb" dy="4">7</tspan></text><text x="196.35" y="60">T<tspan class="sb" dy="4">8</tspan></text><text x="232.05" y="60">T<tspan class="sb" dy="4">9</tspan></text><text class="r" x="267.75" y="60">A<tspan class="sb" dy="4">10</tspan></text><text class="r" x="303.45" y="60">A<tspan class="sb" dy="4">11</tspan></text><text class="r" x="339.15" y="60">A<tspan class="sb" dy="4">12</tspan></text><text class="r" x="374.85" y="60">A<tspan class="sb" dy="4">13</tspan></text><text x="410.55" y="60">C<tspan class="sb" dy="4">14</tspan></text><text x="446.25" y="60">C<tspan class="sb" dy="4">15</tspan></text><text x="481.95" y="60">T<tspan class="sb" dy="4">16</tspan></text></g>
</g>

<g class="h" transform="translate(720,833)">
<text class="tt i" x="237" y="-12">tp53</text>
<rect class="c" x="107.1" y="0" width="35.7" height="18" fill-opacity=".05"/><rect class="c" x="249.9" y="0" width="35.7" height="18" fill-opacity=".11"/><rect class="c" x="357" y="0" width="35.7" height="18" fill-opacity=".87"/><rect class="c" x="392.7" y="0" width="35.7" height="18" fill-opacity=".72"/><rect class="c" x="428.4" y="0" width="35.7" height="18" fill-opacity=".78"/>
<rect class="c" x="357" y="18" width="35.7" height="18" fill-opacity=".25"/><rect class="c" x="392.7" y="18" width="35.7" height="18" fill-opacity=".48"/><rect class="c" x="428.4" y="18" width="35.7" height="18" fill-opacity=".73"/>
<rect class="box" x="0" y="0" width="500" height="36"/>
<text class="v" x="124.95" y="14">5.0</text><text class="v" x="267.75" y="14">11.0</text><text class="v" x="374.85" y="14">87.0</text><text class="v" x="410.55" y="14">72.0</text><text class="v" x="446.25" y="14">78.0</text>
<text class="v" x="124.95" y="32">0</text><text class="v" x="267.75" y="32">0</text><text class="v" x="374.85" y="32">25.0</text><text class="v" x="410.55" y="32">48.0</text><text class="v" x="446.25" y="32">73.0</text>
<g class="cl"><text class="r" x="17.85" y="60">A<tspan class="sb" dy="4">3</tspan></text><text x="53.55" y="60">T<tspan class="sb" dy="4">4</tspan></text><text x="89.25" y="60">C<tspan class="sb" dy="4">5</tspan></text><text class="r" x="124.95" y="60">A<tspan class="sb" dy="4">6</tspan></text><text x="160.65" y="60">G<tspan class="sb" dy="4">7</tspan></text><text x="196.35" y="60">C<tspan class="sb" dy="4">8</tspan></text><text x="232.05" y="60">G<tspan class="sb" dy="4">9</tspan></text><text class="r" x="267.75" y="60">A<tspan class="sb" dy="4">10</tspan></text><text x="303.45" y="60">G<tspan class="sb" dy="4">11</tspan></text><text x="339.15" y="60">C<tspan class="sb" dy="4">12</tspan></text><text class="r" x="374.85" y="60">A<tspan class="sb" dy="4">13</tspan></text><text class="r" x="410.55" y="60">A<tspan class="sb" dy="4">14</tspan></text><text class="r" x="446.25" y="60">A<tspan class="sb" dy="4">15</tspan></text><text x="481.95" y="60">T<tspan class="sb" dy="4">16</tspan></text></g>
</g>

<g class="h" transform="translate(203,969)">
<text class="tt" x="237" y="-11"><tspan class="i">cdh23</tspan>-multiA-T2</text>
<rect class="c" x="107.1" y="0" width="35.7" height="18" fill-opacity=".52"/><rect class="c" x="178.5" y="0" width="35.7" height="18" fill-opacity=".55"/><rect class="c" x="214.2" y="0" width="35.7" height="18" fill-opacity=".18"/><rect class="c" x="249.9" y="0" width="35.7" height="18" fill-opacity=".24"/><rect class="c" x="285.6" y="0" width="35.7" height="18" fill-opacity=".08"/>
<rect class="c" x="107.1" y="18" width="35.7" height="18" fill-opacity=".5"/><rect class="c" x="178.5" y="18" width="35.7" height="18" fill-opacity=".02"/><rect class="c" x="214.2" y="18" width="35.7" height="18" fill-opacity=".04"/><rect class="c" x="249.9" y="18" width="35.7" height="18" fill-opacity=".05"/>
<rect class="c" x="107.1" y="36" width="35.7" height="18" fill-opacity=".4"/><rect class="c" x="178.5" y="36" width="35.7" height="18" fill-opacity=".58"/><rect class="c" x="214.2" y="36" width="35.7" height="18" fill-opacity=".43"/><rect class="c" x="249.9" y="36" width="35.7" height="18" fill-opacity=".52"/><rect class="c" x="285.6" y="36" width="35.7" height="18" fill-opacity=".6"/><rect class="c" x="392.7" y="36" width="35.7" height="18" fill-opacity=".87"/><rect class="c" x="428.4" y="36" width="35.7" height="18" fill-opacity=".76"/>
<rect class="c" x="249.9" y="54" width="35.7" height="18" fill-opacity=".05"/><rect class="c" x="285.6" y="54" width="35.7" height="18" fill-opacity=".07"/><rect class="c" x="392.7" y="54" width="35.7" height="18" fill-opacity=".75"/><rect class="c" x="428.4" y="54" width="35.7" height="18" fill-opacity=".64"/>
<rect class="box" x="0" y="0" width="500" height="72"/>
<text class="v" x="124.95" y="15">52.0</text><text class="v" x="196.35" y="15">55.0</text><text class="v" x="232.05" y="15">18.0</text><text class="v" x="267.75" y="15">24.0</text><text class="v" x="303.45" y="15">8.0</text><text class="v" x="410.55" y="15">0</text><text class="v" x="446.25" y="15">0</text>
<text class="v" x="124.95" y="33">50.0</text><text class="v" x="196.35" y="33">2.0</text><text class="v" x="232.05" y="33">4.0</text><text class="v" x="267.75" y="33">5.0</text><text class="v" x="303.45" y="33">0</text><text class="v" x="410.55" y="33">0</text><text class="v" x="446.25" y="33">0</text>
<text class="v" x="124.95" y="51">40.0</text><text class="v" x="196.35" y="51">58.0</text><text class="v" x="232.05" y="51">43.0</text><text class="v" x="267.75" y="51">52.0</text><text class="v" x="303.45" y="51">60.0</text><text class="v" x="410.55" y="51">87.0</text><text class="v" x="446.25" y="51">76.0</text>
<text class="v" x="124.95" y="69">0</text><text class="v" x="196.35" y="69">0</text><text class="v" x="232.05" y="69">0</text><text class="v" x="267.75" y="69">5.0</text><text class="v" x="303.45" y="69">7.0</text><text class="v" x="410.55" y="69">75.0</text><text class="v" x="446.25" y="69">64.0</text>
<text class="rl" x="-6" y="15">ABE-Umax-ex1</text><text class="rl" x="-6" y="33">ABE-Umax-ex1-rest1</text><text class="rl" x="-6" y="51">ABE-Umax-ex2</text><text class="rl" x="-6" y="69">ABE-Umax-ex2-rest1</text>
<g class="cl"><text x="17.85" y="94">G<tspan class="sb" dy="4">3</tspan></text><text x="53.55" y="94">G<tspan class="sb" dy="4">4</tspan></text><text x="89.25" y="94">C<tspan class="sb" dy="4">5</tspan></text><text class="r" x="124.95" y="94">A<tspan class="sb" dy="4">6</tspan></text><text x="160.65" y="94">T<tspan class="sb" dy="4">7</tspan></text><text class="r" x="196.35" y="94">A<tspan class="sb" dy="4">8</tspan></text><text class="r" x="232.05" y="94">A<tspan class="sb" dy="4">9</tspan></text><text class="r" x="267.75" y="94">A<tspan class="sb" dy="4">10</tspan></text><text class="r" x="303.45" y="94">A<tspan class="sb" dy="4">11</tspan></text><text x="339.15" y="94">G<tspan class="sb" dy="4">12</tspan></text><text x="374.85" y="94">G<tspan class="sb" dy="4">13</tspan></text><text class="r" x="410.55" y="94">A<tspan class="sb" dy="4">14</tspan></text><text class="r" x="446.25" y="94">A<tspan class="sb" dy="4">15</tspan></text><text x="481.95" y="94">G<tspan class="sb" dy="4">16</tspan></text></g>
</g>

<g class="h" transform="translate(720,969)">
<text class="tt" x="243" y="-11">All Sites</text>
<rect class="c" x="35.7" y="0" width="35.7" height="18" fill-opacity=".88"/><rect class="c" x="71.4" y="0" width="35.7" height="18" fill-opacity=".75"/><rect class="c" x="107.1" y="0" width="35.7" height="18" fill-opacity=".75"/><rect class="c" x="142.8" y="0" width="35.7" height="18" fill-opacity=".73"/><rect class="c" x="178.5" y="0" width="35.7" height="18" fill-opacity=".58"/><rect class="c" x="214.2" y="0" width="35.7" height="18" fill-opacity=".3"/><rect class="c" x="249.9" y="0" width="35.7" height="18" fill-opacity=".5"/><rect class="c" x="285.6" y="0" width="35.7" height="18" fill-opacity=".27"/><rect class="c" x="321.3" y="0" width="35.7" height="18" fill-opacity=".23"/>
<rect class="c" x="35.7" y="18" width="35.7" height="18" fill-opacity=".1"/><rect class="c" x="71.4" y="18" width="35.7" height="18" fill-opacity=".6"/><rect class="c" x="107.1" y="18" width="35.7" height="18" fill-opacity=".56"/><rect class="c" x="142.8" y="18" width="35.7" height="18" fill-opacity=".05"/><rect class="c" x="214.2" y="18" width="35.7" height="18" fill-opacity=".02"/><rect class="c" x="249.9" y="18" width="35.7" height="18" fill-opacity=".06"/>
<rect class="c" x="107.1" y="36" width="35.7" height="18" fill-opacity=".18"/><rect class="c" x="178.5" y="36" width="35.7" height="18" fill-opacity=".58"/><rect class="c" x="214.2" y="36" width="35.7" height="18" fill-opacity=".43"/><rect class="c" x="249.9" y="36" width="35.7" height="18" fill-opacity=".4"/><rect class="c" x="285.6" y="36" width="35.7" height="18" fill-opacity=".5"/><rect class="c" x="321.3" y="36" width="35.7" height="18" fill-opacity=".43"/><rect class="c" x="357" y="36" width="35.7" height="18" fill-opacity=".68"/><rect class="c" x="392.7" y="36" width="35.7" height="18" fill-opacity=".8"/><rect class="c" x="428.4" y="36" width="35.7" height="18" fill-opacity=".77"/>
<rect class="c" x="249.9" y="54" width="35.7" height="18" fill-opacity=".03"/><rect class="c" x="285.6" y="54" width="35.7" height="18" fill-opacity=".06"/><rect class="c" x="321.3" y="54" width="35.7" height="18" fill-opacity=".23"/><rect class="c" x="357" y="54" width="35.7" height="18" fill-opacity=".27"/><rect class="c" x="392.7" y="54" width="35.7" height="18" fill-opacity=".62"/><rect class="c" x="428.4" y="54" width="35.7" height="18" fill-opacity=".69"/>
<rect class="box" x="0" y="0" width="500" height="72"/>
<text class="v" x="53.55" y="15">88.5</text><text class="v" x="89.25" y="15">75.0</text><text class="v" x="124.95" y="15">75.0</text><text class="v" x="160.65" y="15">73.0</text><text class="v" x="196.35" y="15">58.3</text><text class="v" x="232.05" y="15">30.0</text><text class="v" x="267.75" y="15">50.0</text><text class="v" x="303.45" y="15">27.5</text><text class="v" x="339.15" y="15">23.0</text><text class="v" x="410.55" y="15">0</text><text class="v" x="446.25" y="15">0</text>
<text class="v" x="53.55" y="33">9.5</text><text class="v" x="89.25" y="33">60.0</text><text class="v" x="124.95" y="33">55.7</text><text class="v" x="160.65" y="33">5.0</text><text class="v" x="196.35" y="33">1.3</text><text class="v" x="232.05" y="33">2.0</text><text class="v" x="267.75" y="33">5.5</text><text class="v" x="303.45" y="33">0</text><text class="v" x="339.15" y="33">0</text><text class="v" x="410.55" y="33">0</text><text class="v" x="446.25" y="33">0</text>
<text class="v" x="124.95" y="51">18.3</text><text class="v" x="196.35" y="51">58.0</text><text class="v" x="232.05" y="51">43.0</text><text class="v" x="267.75" y="51">39.7</text><text class="v" x="303.45" y="51">50.5</text><text class="v" x="339.15" y="51">43.0</text><text class="v" x="374.85" y="51">68.5</text><text class="v" x="410.55" y="51">79.5</text><text class="v" x="446.25" y="51">77.0</text>
<text class="v" x="124.95" y="69">0</text><text class="v" x="196.35" y="69">0</text><text class="v" x="232.05" y="69">0</text><text class="v" x="267.75" y="69">3.0</text><text class="v" x="303.45" y="69">6.0</text><text class="v" x="339.15" y="69">23.0</text><text class="v" x="374.85" y="69">26.5</text><text class="v" x="410.55" y="69">61.5</text><text class="v" x="446.25" y="69">68.5</text>
<g class="cl r"><text x="17.85" y="94">A<tspan class="sb" dy="4">3</tspan></text><text x="53.55" y="94">A<tspan class="sb" dy="4">4</tspan></text><text x="89.25" y="94">A<tspan class="sb" dy="4">5</tspan></text><text x="124.95" y="94">A<tspan class="sb" dy="4">6</tspan></text><text x="160.65" y="94">A<tspan class="sb" dy="4">7</tspan></text><text x="196.35" y="94">A<tspan class="sb" dy="4">8</tspan></text><text x="232.05" y="94">A<tspan class="sb" dy="4">9</tspan></text><text x="267.75" y="94">A<tspan class="sb" dy="4">10</tspan></text><text x="303.45" y="94">A<tspan class="sb" dy="4">11</tspan></text><text x="339.15" y="94">A<tspan class="sb" dy="4">12</tspan></text><text x="374.85" y="94">A<tspan class="sb" dy="4">13</tspan></text><text x="410.55" y="94">A<tspan class="sb" dy="4">14</tspan></text><text x="446.25" y="94">A<tspan class="sb" dy="4">15</tspan></text><text x="481.95" y="94">A<tspan class="sb" dy="4">16</tspan></text></g>
</g>

<!-- e colorbar & axes -->
<text class="ax" x="1296" y="696">Average A to G conversion(%)</text>
<rect x="1367" y="711" width="29" height="71" fill="url(#cb)" stroke="#000" stroke-width="1.2"/>
<g class="ax"><text x="1408" y="717">100</text><text x="1408" y="735">75</text><text x="1408" y="753">50</text><text x="1408" y="771">25</text><text x="1408" y="788">0</text></g>
<text class="ax" transform="translate(18,983) rotate(-90)" text-anchor="middle">ABE tool</text>
<g stroke="#000" stroke-width="1.5"><line x1="33" y1="1070" x2="33" y2="880"/><line x1="66" y1="1087" x2="256" y2="1087"/></g>
<polygon points="33,872 29,882 37,882"/><polygon points="264,1087 254,1083 254,1091"/>
<text class="ax" x="82" y="1113">Position site</text>

<!-- Panel f -->
<g class="lb" text-anchor="middle" font-size="15">
<text x="275" y="1152">ABE-Umax</text><text x="278" y="1242">ABE-Umax-ex1</text><text x="272" y="1334">ABE-Umax-ex2</text>
<text x="927" y="1152">ABE-Umax-rest1</text><text x="929" y="1242">ABE-Umax-ex1-rest1</text><text x="916" y="1332">ABE-Umax-ex2-rest1</text>
</g>
<!-- highlights -->
<rect x="107" y="1164" width="154" height="34" fill="#f9d0d4"/><rect x="130" y="1164" width="110" height="34" fill="#f08890" fill-opacity=".9"/>
<rect x="130" y="1254" width="242" height="34" fill="#f9d0d4"/><rect x="130" y="1256" width="198" height="32" fill="#f08890" fill-opacity=".8"/><rect x="166" y="1256" width="162" height="32" fill="#f08890" fill-opacity=".3"/>
<rect x="152" y="1344" width="264" height="34" fill="#f9d0d4"/><rect x="218" y="1346" width="198" height="32" fill="#f08890" fill-opacity=".9"/>
<rect x="782" y="1164" width="46" height="34" fill="#3636d4" fill-opacity=".88"/>
<rect x="758" y="1254" width="67" height="34" fill="#3636d4" fill-opacity=".88"/>
<rect x="938" y="1344" width="88" height="34" fill="#3636d4" fill-opacity=".88"/>
<!-- ladders -->
<g id="L1" transform="translate(64,1172)">
<path d="M0 0H440M0 18H440" stroke="#111" stroke-width="3.5"/>
<path d="M1 0V18M22 0V18M44 0V18M66 0V18M88 0V18M110 0V18M132 0V18M154 0V18M176 0V18M198 0V18M220 0V18M242 0V18M264 0V18M286 0V18M308 0V18M330 0V18M352 0V18M374 0V18M396 0V18M418 0V18M439 0V18" stroke="#111" stroke-width="2.5"/>
<polygon points="369,32 379,32 374,19" fill="#f0603c"/>
<text font-size="14" text-anchor="middle" y="33"><tspan x="11">1</tspan><tspan x="33">2</tspan><tspan x="55">3</tspan><tspan x="77">4</tspan><tspan x="99">5</tspan><tspan x="121">6</tspan><tspan x="143">7</tspan><tspan x="165">8</tspan><tspan x="187">9</tspan><tspan x="209">10</tspan><tspan x="231">11</tspan><tspan x="253">12</tspan><tspan x="275">13</tspan><tspan x="297">14</tspan><tspan x="319">15</tspan><tspan x="341">16</tspan><tspan x="363">17</tspan><tspan x="385">18</tspan><tspan x="407">19</tspan><tspan x="429">20</tspan></text>
<text font-size="14" x="-14" y="5">5’</text><text font-size="14" x="-14" y="24">3’</text>
<text class="g" x="442" y="3">NGG<tspan fill="#000">-3’</tspan></text><text class="g" x="442" y="22">NCC<tspan fill="#000">-5’</tspan></text>
</g>
<g transform="translate(64,1262)">
<path d="M0 0H440M0 18H440" stroke="#111" stroke-width="3.5"/>
<path d="M1 0V18M22 0V18M44 0V18M66 0V18M88 0V18M110 0V18M132 0V18M154 0V18M176 0V18M198 0V18M220 0V18M242 0V18M264 0V18M286 0V18M308 0V18M330 0V18M352 0V18M374 0V18M396 0V18M418 0V18M439 0V18" stroke="#111" stroke-width="2.5"/>
<polygon points="369,32 379,32 374,19" fill="#f0603c"/>
<text font-size="14" text-anchor="middle" y="33"><tspan x="11">1</tspan><tspan x="33">2</tspan><tspan x="55">3</tspan><tspan x="77">4</tspan><tspan x="99">5</tspan><tspan x="121">6</tspan><tspan x="143">7</tspan><tspan x="165">8</tspan><tspan x="187">9</tspan><tspan x="209">10</tspan><tspan x="231">11</tspan><tspan x="253">12</tspan><tspan x="275">13</tspan><tspan x="297">14</tspan><tspan x="319">15</tspan><tspan x="341">16</tspan><tspan x="363">17</tspan><tspan x="385">18</tspan><tspan x="407">19</tspan><tspan x="429">20</tspan></text>
<text font-size="14" x="-14" y="5">5’</text><text font-size="14" x="-14" y="24">3’</text>
<text class="g" x="442" y="3">NGG<tspan fill="#000">-3’</tspan></text><text class="g" x="442" y="22">NCC<tspan fill="#000">-5’</tspan></text>
</g>
<g transform="translate(64,1352)">
<path d="M0 0H440M0 18H440" stroke="#111" stroke-width="3.5"/>
<path d="M1 0V18M22 0V18M44 0V18M66 0V18M88 0V18M110 0V18M132 0V18M154 0V18M176 0V18M198 0V18M220 0V18M242 0V18M264 0V18M286 0V18M308 0V18M330 0V18M352 0V18M374 0V18M396 0V18M418 0V18M439 0V18" stroke="#111" stroke-width="2.5"/>
<polygon points="369,32 379,32 374,19" fill="#f0603c"/>
<text font-size="14" text-anchor="middle" y="33"><tspan x="11">1</tspan><tspan x="33">2</tspan><tspan x="55">3</tspan><tspan x="77">4</tspan><tspan x="99">5</tspan><tspan x="121">6</tspan><tspan x="143">7</tspan><tspan x="165">8</tspan><tspan x="187">9</tspan><tspan x="209">10</tspan><tspan x="231">11</tspan><tspan x="253">12</tspan><tspan x="275">13</tspan><tspan x="297">14</tspan><tspan x="319">15</tspan><tspan x="341">16</tspan><tspan x="363">17</tspan><tspan x="385">18</tspan><tspan x="407">19</tspan><tspan x="429">20</tspan></text>
<text font-size="14" x="-14" y="5">5’</text><text font-size="14" x="-14" y="24">3’</text>
<text class="g" x="442" y="3">NGG<tspan fill="#000">-3’</tspan></text><text class="g" x="442" y="22">NCC<tspan fill="#000">-5’</tspan></text>
</g>
<g transform="translate(695,1172)">
<path d="M0 0H440M0 18H440" stroke="#111" stroke-width="3.5"/>
<path d="M1 0V18M22 0V18M44 0V18M66 0V18M88 0V18M110 0V18M132 0V18M154 0V18M176 0V18M198 0V18M220 0V18M242 0V18M264 0V18M286 0V18M308 0V18M330 0V18M352 0V18M374 0V18M396 0V18M418 0V18M439 0V18" stroke="#111" stroke-width="2.5"/>
<polygon points="369,32 379,32 374,19" fill="#f0603c"/>
<text font-size="14" text-anchor="middle" y="33"><tspan x="11">1</tspan><tspan x="33">2</tspan><tspan x="55">3</tspan><tspan x="77">4</tspan><tspan x="99">5</tspan><tspan x="121">6</tspan><tspan x="143">7</tspan><tspan x="165">8</tspan><tspan x="187">9</tspan><tspan x="209">10</tspan><tspan x="231">11</tspan><tspan x="253">12</tspan><tspan x="275">13</tspan><tspan x="297">14</tspan><tspan x="319">15</tspan><tspan x="341">16</tspan><tspan x="363">17</tspan><tspan x="385">18</tspan><tspan x="407">19</tspan><tspan x="429">20</tspan></text>
<text font-size="14" x="-14" y="5">5’</text><text font-size="14" x="-14" y="24">3’</text>
<text class="g" x="442" y="3">NGG<tspan fill="#000">-3’</tspan></text><text class="g" x="442" y="22">NCC<tspan fill="#000">-5’</tspan></text>
</g>
<g transform="translate(695,1262)">
<path d="M0 0H440M0 18H440" stroke="#111" stroke-width="3.5"/>
<path d="M1 0V18M22 0V18M44 0V18M66 0V18M88 0V18M110 0V18M132 0V18M154 0V18M176 0V18M198 0V18M220 0V18M242 0V18M264 0V18M286 0V18M308 0V18M330 0V18M352 0V18M374 0V18M396 0V18M418 0V18M439 0V18" stroke="#111" stroke-width="2.5"/>
<polygon points="369,32 379,32 374,19" fill="#f0603c"/>
<text font-size="14" text-anchor="middle" y="33"><tspan x="11">1</tspan><tspan x="33">2</tspan><tspan x="55">3</tspan><tspan x="77">4</tspan><tspan x="99">5</tspan><tspan x="121">6</tspan><tspan x="143">7</tspan><tspan x="165">8</tspan><tspan x="187">9</tspan><tspan x="209">10</tspan><tspan x="231">11</tspan><tspan x="253">12</tspan><tspan x="275">13</tspan><tspan x="297">14</tspan><tspan x="319">15</tspan><tspan x="341">16</tspan><tspan x="363">17</tspan><tspan x="385">18</tspan><tspan x="407">19</tspan><tspan x="429">20</tspan></text>
<text font-size="14" x="-14" y="5">5’</text><text font-size="14" x="-14" y="24">3’</text>
<text class="g" x="442" y="3">NGG<tspan fill="#000">-3’</tspan></text><text class="g" x="442" y="22">NCC<tspan fill="#000">-5’</tspan></text>
</g>
<g transform="translate(695,1352)">
<path d="M0 0H440M0 18H440" stroke="#111" stroke-width="3.5"/>
<path d="M1 0V18M22 0V18M44 0V18M66 0V18M88 0V18M110 0V18M132 0V18M154 0V18M176 0V18M198 0V18M220 0V18M242 0V18M264 0V18M286 0V18M308 0V18M330 0V18M352 0V18M374 0V18M396 0V18M418 0V18M439 0V18" stroke="#111" stroke-width="2.5"/>
<polygon points="369,32 379,32 374,19" fill="#f0603c"/>
<text font-size="14" text-anchor="middle" y="33"><tspan x="11">1</tspan><tspan x="33">2</tspan><tspan x="55">3</tspan><tspan x="77">4</tspan><tspan x="99">5</tspan><tspan x="121">6</tspan><tspan x="143">7</tspan><tspan x="165">8</tspan><tspan x="187">9</tspan><tspan x="209">10</tspan><tspan x="231">11</tspan><tspan x="253">12</tspan><tspan x="275">13</tspan><tspan x="297">14</tspan><tspan x="319">15</tspan><tspan x="341">16</tspan><tspan x="363">17</tspan><tspan x="385">18</tspan><tspan x="407">19</tspan><tspan x="429">20</tspan></text>
<text font-size="14" x="-14" y="5">5’</text><text font-size="14" x="-14" y="24">3’</text>
<text class="g" x="442" y="3">NGG<tspan fill="#000">-3’</tspan></text><text class="g" x="442" y="22">NCC<tspan fill="#000">-5’</tspan></text>
</g>
<!-- legend -->
<rect x="1263" y="1157" width="302" height="134" fill="#fff" stroke="#222" stroke-width="2.5"/>
<g font-size="14"><text x="1279" y="1188">precise targeting widow</text><text x="1279" y="1226">possible targeting window</text><text x="1279" y="1264">main targeting window</text></g>
<rect x="1467" y="1170" width="79" height="30" fill="#4f4fd8"/>
<rect x="1467" y="1209" width="79" height="30" fill="#f9d0d4"/>
<rect x="1467" y="1247" width="79" height="30" fill="#f28a90"/>
</svg>
</body></html>
